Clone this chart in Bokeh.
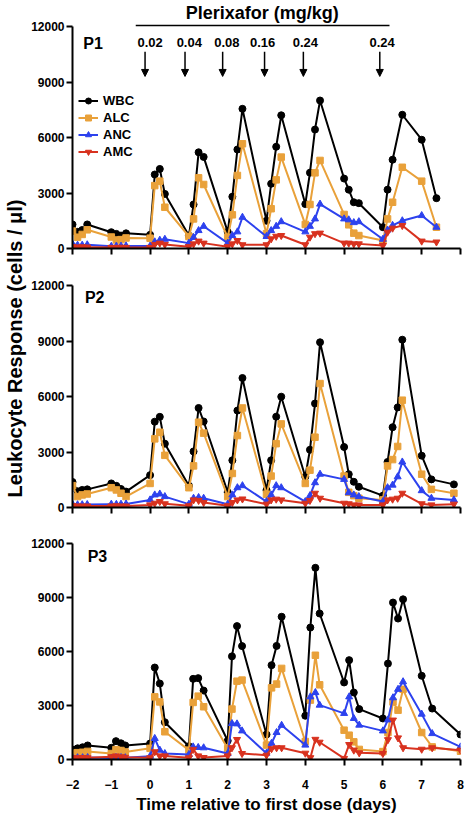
import math
from bokeh.plotting import figure
from bokeh.models import Range1d, FixedTicker, Legend, LegendItem, Label, Arrow, NormalHead
from bokeh.layouts import column, row
from bokeh.embed import file_html
from bokeh.resources import INLINE

# ---------------- data ----------------
series_names = ["WBC", "ALC", "ANC", "AMC"]

p1_t = [-2.0, -1.87, -1.75, -1.62, -1.0, -0.87, -0.75, -0.62,
        0.0, 0.12, 0.25, 0.38, 1.0, 1.12, 1.25, 1.38,
        2.0, 2.12, 2.25, 2.38, 3.0, 3.12, 3.25, 3.38,
        4.0, 4.12, 4.25, 4.38, 5.0, 5.12, 5.25, 5.38,
        6.0, 6.12, 6.25, 6.5, 7.0, 7.38]
p1_wbc = [1300, 900, 1000, 1300, 880, 790, 700, 820,
          740, 4000, 4300, 2950, 700, 2380, 5200, 4950,
          900, 2800, 5350, 7550, 1500, 3500, 5500, 7200,
          2400, 4100, 6430, 8000, 3780, 3180, 2500, 2450,
          1150, 3180, 4800, 7230, 5880, 2720]
p1_alc = [940, 610, 760, 1010, 620, 460, 480, 570,
          557, 3400, 3640, 2230, 650, 1600, 3820, 3460,
          610, 1820, 3950, 5660, 800, 2150, 3710, 4940,
          1300, 2380, 4090, 4760, 1840, 1280, 830, 700,
          430, 1600, 2500, 4390, 3640, 1150]
p1_anc = [250, 180, 180, 200, 120, 130, 130, 140,
          130, 360, 450, 500, 290, 600, 970, 1200,
          290, 700, 900, 1690, 650, 970, 1200, 1450,
          900, 1200, 1600, 2400, 1600, 1550, 1400, 1450,
          500, 1000, 1250, 1500, 1780, 1150]
p1_amc = [100, 80, 90, 80, 60, 60, 70, 60,
          60, 220, 290, 220, 100, 250, 400, 290,
          100, 250, 430, 200, 200, 520, 660, 700,
          200, 610, 800, 830, 290, 290, 250, 250,
          160, 880, 1100, 1240, 400, 350]

p2_t = [-2.0, -1.87, -1.75, -1.62, -1.0, -0.87, -0.75, -0.62,
        0.0, 0.12, 0.25, 0.38, 1.0, 1.12, 1.25, 1.38,
        2.0, 2.12, 2.25, 2.38, 3.0, 3.12, 3.25, 3.38,
        4.0, 4.12, 4.25, 4.38, 5.0, 5.12, 5.25, 5.38,
        6.0, 6.12, 6.25, 6.38, 6.5, 7.0, 7.25, 7.83]
p2_wbc = [1380, 880, 950, 980, 1300, 1170, 1000, 860,
          1750, 4640, 4900, 3450, 1180, 3030, 5380, 4650,
          830, 2550, 5240, 7000, 940, 2550, 4910, 5990,
          1660, 3120, 5620, 8930, 3270, 1800, 1390, 1120,
          640, 2460, 4340, 5410, 9070, 2800, 1520, 1250]
p2_alc = [1180, 590, 680, 730, 1070, 950, 770, 590,
          1300, 3710, 4070, 2820, 1070, 2250, 4610, 4020,
          590, 1840, 3890, 5380, 720, 1700, 3450, 4520,
          1300, 2020, 3800, 6700, 1700, 820, 640, 500,
          410, 2250, 2590, 3300, 5800, 1800, 980, 770]
p2_anc = [180, 150, 150, 160, 180, 170, 180, 190,
          410, 680, 730, 590, 180, 500, 540, 500,
          180, 680, 1070, 1180, 320, 680, 1180, 1070,
          320, 640, 1340, 1800, 1520, 800, 680, 590,
          320, 1070, 1210, 1660, 2460, 910, 500, 410]
p2_amc = [100, 80, 80, 80, 80, 90, 80, 80,
          140, 230, 320, 200, 90, 410, 380, 270,
          90, 270, 410, 460, 180, 410, 450, 410,
          230, 380, 770, 500, 230, 200, 140, 140,
          140, 410, 450, 500, 770, 200, 140, 180]

p3_t = [-2.0, -1.87, -1.74, -1.61, -1.0, -0.88, -0.75, -0.64,
        0.0, 0.12, 0.25, 0.38, 1.0, 1.11, 1.24, 1.38,
        2.0, 2.11, 2.24, 2.37, 3.0, 3.13, 3.26, 3.39,
        4.0, 4.13, 4.26, 4.37, 5.0, 5.13, 5.25, 5.39,
        6.0, 6.13, 6.26, 6.39, 6.52, 7.0, 7.27, 8.0]
p3_wbc = [550, 620, 680, 780, 650, 1020, 900, 780,
          890, 5110, 4220, 2070, 740, 4480, 4520, 3830,
          1040, 5730, 7410, 6300, 1390, 5240, 6310, 7930,
          2430, 7330, 10650, 8110, 4280, 5520, 3720, 2800,
          2280, 5330, 8720, 7830, 8900, 4650, 2830, 1390]
p3_alc = [350, 380, 400, 450, 330, 550, 500, 420,
          620, 3480, 3200, 1540, 520, 3170, 3520, 2930,
          610, 2800, 4350, 4410, 800, 3980, 4190, 5060,
          1000, 3300, 5790, 4150, 1630, 1350, 980, 560,
          440, 1500, 3200, 2740, 3900, 1500, 700, 460]
p3_anc = [100, 100, 100, 110, 80, 120, 110, 100,
          185, 1170, 520, 330, 280, 700, 670, 650,
          330, 2000, 1980, 1590, 350, 900, 1500, 1900,
          800, 3480, 3720, 3020, 2560, 3480, 2280, 1910,
          1590, 2200, 3430, 3900, 4320, 2520, 1440, 700]
p3_amc = [90, 100, 110, 100, 150, 200, 150, 120,
          93, 430, 200, 200, 93, 560, 200, 110,
          200, 650, 1110, 330, 240, 600, 650, 650,
          350, 100, 1120, 960, 60, 830, 520, 370,
          330, 1100, 2190, 1200, 650, 570, 650, 520]

y_ticks = [0, 3000, 6000, 9000, 12000]
x_ticks = [-2, -1, 0, 1, 2, 3, 4, 5, 6, 7, 8]

dose_title = "Plerixafor (mg/kg)"
dose_labels = ["0.02", "0.04", "0.08", "0.16", "0.24", "0.24"]
dose_label_x = [0.0, 1.01, 1.98, 2.9, 4.0, 5.98]
dose_arrow_x = [-0.13, 0.9, 1.87, 2.95, 3.95, 5.92]

panel_names = ["P1", "P2", "P3"]
y_title = "Leukocyte Response (cells / \u03bcl)"
x_title = "Time relative to first dose (days)"

# ---------------- style ----------------
FONT = "Liberation Sans"
colors = {"WBC": "#000000", "ALC": "#E9A13A", "ANC": "#2D42EE", "AMC": "#D8321F"}
markers = {"WBC": "circle", "ALC": "square", "ANC": "triangle", "AMC": "inverted_triangle"}
msize = {"WBC": 7, "ALC": 6.5, "ANC": 7, "AMC": 7}
LW = 27  # width of the column holding the rotated y title


def make_fig(height, top, bottom, left, right, y_end=12000, width=475 - LW):
    p = figure(width=width, height=height, x_range=Range1d(-2, 8), y_range=Range1d(0, y_end),
               output_backend="svg", toolbar_location=None, tools="",
               min_border_top=top, min_border_bottom=bottom,
               min_border_left=left, min_border_right=right)
    p.outline_line_color = None
    p.grid.visible = False
    for ax in (p.xaxis[0], p.yaxis[0]):
        ax.axis_line_width = 2
        ax.axis_line_color = "black"
        ax.major_tick_line_width = 2
        ax.major_tick_line_color = "black"
        ax.major_tick_out = 6
        ax.major_tick_in = 0
        ax.minor_tick_line_color = None
        ax.major_label_text_font = FONT
        ax.major_label_text_font_style = "bold"
        ax.major_label_text_font_size = "12px"
        ax.major_label_text_color = "black"
    p.yaxis.ticker = FixedTicker(ticks=y_ticks)
    p.yaxis.bounds = (0, 12000)
    p.yaxis.major_label_standoff = 2
    p.xaxis.ticker = FixedTicker(ticks=x_ticks)
    return p


def draw(p, t, data):
    rends = {}
    for name in series_names:
        vals = data[name]
        l = p.line(t, vals, line_color=colors[name], line_width=2)
        s = p.scatter(t, vals, marker=markers[name], size=msize[name],
                      fill_color=colors[name], line_color=colors[name])
        rends[name] = [l, s]
    return rends


def hide_x_labels(p):
    p.xaxis.major_label_overrides = {t: "" for t in x_ticks}
    p.xaxis.major_label_standoff = 0


def panel_label(p, x, y, text):
    p.add_layout(Label(x=x, y=y, text=text, text_baseline="middle",
                       text_font=FONT, text_font_style="bold", text_font_size="16px",
                       text_color="black"))


# Panel 1 (frame extends to the top of the canvas so the dose header is inside it)
Y1_TOP = 12000 + 26 * 12000 / 222
p1 = make_fig(268, 0, 20, 72 - LW, 5, y_end=Y1_TOP)
hide_x_labels(p1)
r1 = draw(p1, p1_t, {"WBC": p1_wbc, "ALC": p1_alc, "ANC": p1_anc, "AMC": p1_amc})

legend = Legend(items=[LegendItem(label=n, renderers=r1[n]) for n in series_names],
                location=(6, 89), orientation="vertical")
legend.label_text_font = FONT
legend.label_text_font_style = "bold"
legend.label_text_font_size = "13px"
legend.label_text_color = "black"
legend.glyph_width = 20
legend.glyph_height = 15
legend.label_height = 15
legend.label_standoff = 5
legend.spacing = 2
legend.padding = 0
legend.margin = 0
legend.border_line_color = None
legend.background_fill_alpha = 0
p1.add_layout(legend, "center")

p1.add_layout(Label(x=2.89, y=12720, text=dose_title, text_align="center",
                    text_baseline="alphabetic", text_font=FONT, text_font_style="bold",
                    text_font_size="18px", text_color="black"))
p1.add_layout(Arrow(x_start=-0.37, y_start=12054, x_end=6.17, y_end=12054, end=None,
                    line_color="black", line_width=1.5))
for lab, lx, ax in zip(dose_labels, dose_label_x, dose_arrow_x):
    p1.add_layout(Label(x=lx, y=11160, text=lab, text_align="center", text_baseline="middle",
                        text_font=FONT, text_font_style="bold", text_font_size="13px",
                        text_color="black"))
    p1.add_layout(Arrow(x_start=ax, y_start=10630, x_end=ax, y_end=9300,
                        end=NormalHead(size=7, fill_color="black", line_color="black"),
                        line_color="black", line_width=1.5))
panel_label(p1, -1.72, 11080, panel_names[0])

# Panel 2
p2 = make_fig(259, 17, 20, 72 - LW, 5)
hide_x_labels(p2)
draw(p2, p2_t, {"WBC": p2_wbc, "ALC": p2_alc, "ANC": p2_anc, "AMC": p2_amc})
panel_label(p2, -1.68, 11330, panel_names[1])

# Panel 3
p3 = make_fig(291, 16, 59, 71 - LW, 15)
p3.xaxis.major_label_standoff = 14
p3.xaxis.axis_label = x_title
p3.xaxis.axis_label_text_font = FONT
p3.xaxis.axis_label_text_font_style = "bold"
p3.xaxis.axis_label_text_font_size = "17px"
p3.xaxis.axis_label_text_color = "black"
p3.xaxis.axis_label_standoff = 3
draw(p3, p3_t, {"WBC": p3_wbc, "ALC": p3_alc, "ANC": p3_anc, "AMC": p3_amc})
panel_label(p3, -1.61, 11290, panel_names[2])

# Narrow column carrying the shared, rotated y title
ylab = figure(width=LW, height=818, x_range=Range1d(0, LW), y_range=Range1d(0, 818),
              output_backend="svg", toolbar_location=None, tools="",
              min_border=0, x_axis_location=None, y_axis_location=None)
ylab.outline_line_color = None
ylab.grid.visible = False
ylab.add_layout(Label(x=14, y=818 - 348, text=y_title, angle=math.pi / 2,
                      text_align="center", text_baseline="middle", text_font=FONT,
                      text_font_style="bold", text_font_size="20px", text_color="black"))

layout = row(ylab, column(p1, p2, p3, spacing=0), spacing=0)
open("out.html", "w").write(file_html(layout, INLINE))
